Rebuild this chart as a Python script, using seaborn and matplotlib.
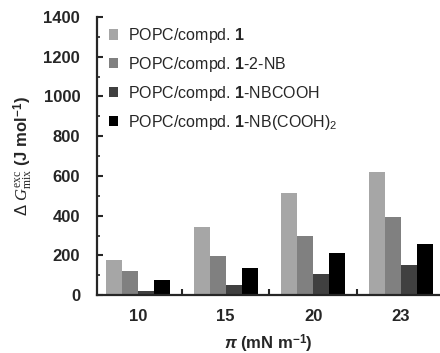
import matplotlib
matplotlib.use('Agg')
import matplotlib.pyplot as plt
import seaborn as sns
import pandas as pd
from matplotlib.ticker import MultipleLocator, FixedLocator

# values
pressures = ['10', '15', '20', '23']
series = ['POPC/compd. $\\mathbf{1}$',
          'POPC/compd. $\\mathbf{1}$-2-NB',
          'POPC/compd. $\\mathbf{1}$-NBCOOH',
          'POPC/compd. $\\mathbf{1}$-NB(COOH)$_\\mathsf{2}$']
g_compd1 = [175, 345, 512, 620]
g_2nb = [120, 195, 295, 395]
g_nbcooh = [22, 50, 105, 152]
g_nbcooh2 = [75, 138, 212, 258]
colors = ['#a6a6a6', '#808080', '#404040', '#000000']

rows = []
for name, vals in zip(series, [g_compd1, g_2nb, g_nbcooh, g_nbcooh2]):
    for p, v in zip(pressures, vals):
        rows.append({'pi': p, 'series': name, 'G': v})
df = pd.DataFrame(rows)

sns.set_style('ticks')
plt.rcParams['font.family'] = ['Liberation Sans', 'DejaVu Sans']
plt.rcParams['mathtext.fontset'] = 'custom'
plt.rcParams['mathtext.rm'] = 'Liberation Serif'
plt.rcParams['mathtext.it'] = 'Liberation Serif:italic'
plt.rcParams['mathtext.bf'] = 'Liberation Sans:bold'
plt.rcParams['mathtext.bfit'] = 'Liberation Sans:italic:bold'
plt.rcParams['mathtext.sf'] = 'Liberation Sans'

fig = plt.figure(figsize=(4.4, 3.53), dpi=100)
ax = fig.add_axes([0.22, 0.164, 0.78, 0.788])

sns.barplot(data=df, x='pi', y='G', hue='series', palette=colors,
            saturation=1, width=0.73, ax=ax, linewidth=0)

ax.set_xlim(-0.474, 3.45)
ax.set_ylim(0, 1400)
ax.yaxis.set_major_locator(MultipleLocator(200))
ax.yaxis.set_minor_locator(MultipleLocator(100))
ax.xaxis.set_minor_locator(FixedLocator([0.5, 1.5, 2.5]))

sns.despine(ax=ax)
for s in ['left', 'bottom']:
    ax.spines[s].set_linewidth(1.6)

ax.tick_params(axis='y', which='major', direction='in', length=4, width=1.5,
               pad=12, labelsize=12)
ax.tick_params(axis='y', which='minor', direction='in', length=2.5, width=1.2)
ax.tick_params(axis='x', which='major', length=0, pad=10, labelsize=12)
ax.tick_params(axis='x', which='minor', direction='in', length=4, width=1.5)
for lab in ax.get_xticklabels() + ax.get_yticklabels():
    lab.set_fontweight('bold')

ax.set_xlabel('$\\mathbfit{\\pi}$ (mN m$^{\\mathbf{-1}}$)', fontsize=12,
              fontweight='bold', labelpad=6)
ax.set_ylabel('$\\mathsf{\\Delta}\\ G^{\\rm exc}_{\\rm mix}$ (J mol$^{\\mathbf{-1}}$)',
              fontsize=12, fontweight='bold', labelpad=6)

ax.legend(loc='upper left', bbox_to_anchor=(0.035, 0.967), frameon=False,
          fontsize=11.5, handlelength=0.6, handleheight=0.6, handletextpad=0.6,
          labelspacing=0.62, borderpad=0, borderaxespad=0)

fig.savefig('out.png', dpi=100)
